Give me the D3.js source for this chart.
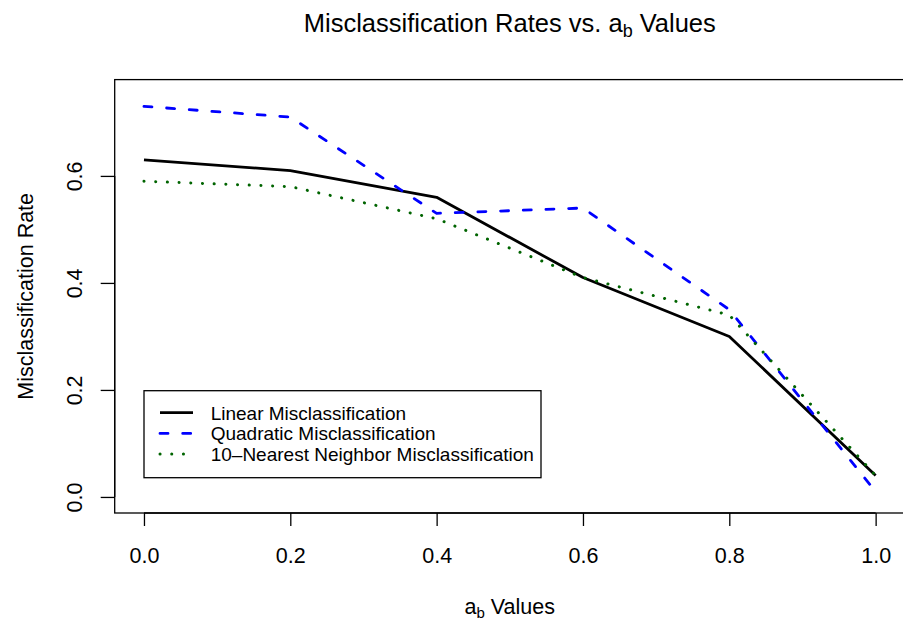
<!DOCTYPE html>
<html>
<head>
<meta charset="utf-8">
<script src="https://cdn.jsdelivr.net/npm/d3@7"></script>
<style>
  body { margin: 0; background: #fff; }
  svg text { font-family: "Liberation Sans", Arial, sans-serif; fill: #000; }
</style>
</head>
<body>
<svg id="chart" width="903" height="623"></svg>
<script>
// values
const abValues = [0.0, 0.2, 0.4, 0.6, 0.8, 1.0];
const linearRates = [0.63, 0.61, 0.56, 0.41, 0.30, 0.04];
const quadraticRates = [0.73, 0.71, 0.53, 0.54, 0.35, 0.01];
const knnRates = [0.59, 0.58, 0.52, 0.41, 0.34, 0.04];
const xTicks = [0.0, 0.2, 0.4, 0.6, 0.8, 1.0];
const yTicks = [0.0, 0.2, 0.4, 0.6];
const seriesNames = ["Linear Misclassification", "Quadratic Misclassification", "10\u2013Nearest Neighbor Misclassification"];

const series = [
    {name: seriesNames[0], values: linearRates, color: "#000000", dash: null, width: 2.8},
    {name: seriesNames[1], values: quadraticRates, color: "#0000FF", dash: "8,14.7", width: 2.8},
    {name: seriesNames[2], values: knnRates, color: "#006400", dash: "0.1,11.6", width: 3}
];

const svg = d3.select("#chart");

// plot region (R style, 4% padding on each side)
const x = d3.scaleLinear().domain([-0.04, 1.04]).range([114.7, 904.9]);
const y = d3.scaleLinear().domain([-0.03, 0.78]).range([513, 79.6]);

// box
svg.append("rect")
    .attr("x", x(-0.04)).attr("y", y(0.78))
    .attr("width", x(1.04) - x(-0.04)).attr("height", y(-0.03) - y(0.78))
    .attr("fill", "none").attr("stroke", "#000").attr("stroke-width", 1.3);

// x axis
const xAxis = d3.axisBottom(x).tickValues(xTicks).tickSize(13).tickSizeOuter(0)
    .tickPadding(22).tickFormat(d3.format(".1f"));
const gx = svg.append("g").attr("transform", `translate(0,${y(-0.03)})`).call(xAxis);
gx.select(".domain").attr("d", `M${x(0)},0H${x(1)}`).attr("stroke-width", 1.3);
gx.selectAll(".tick line").attr("stroke-width", 1.3);
gx.selectAll("text").style("font-size", "21.5px");

// y axis
const yAxis = d3.axisLeft(y).tickValues(yTicks).tickSize(14).tickSizeOuter(0)
    .tickPadding(0).tickFormat(d3.format(".1f"));
const gy = svg.append("g").attr("transform", `translate(${x(-0.04)},0)`).call(yAxis);
gy.select(".domain").attr("d", `M0,${y(0)}V${y(0.6)}`).attr("stroke-width", 1.3);
gy.selectAll(".tick line").attr("stroke-width", 1.3);
gy.selectAll(".tick text")
    .attr("x", null).attr("dy", null)
    .attr("text-anchor", "middle")
    .attr("transform", "translate(-33,0) rotate(-90)")
    .style("font-size", "21.5px");

// lines
const line = d3.line().x((d, i) => x(abValues[i])).y(d => y(d));
series.forEach(s => {
    svg.append("path")
        .datum(s.values)
        .attr("d", line)
        .attr("fill", "none")
        .attr("stroke", s.color)
        .attr("stroke-width", s.width)
        .attr("stroke-dasharray", s.dash)
        .attr("stroke-linecap", s.dash ? "round" : "butt")
        .attr("stroke-linejoin", "round");
});

// legend
const legend = svg.append("g");
legend.append("rect")
    .attr("x", 144).attr("y", 390.7).attr("width", 397).attr("height", 87)
    .attr("fill", "#fff").attr("stroke", "#000").attr("stroke-width", 1.3);
series.forEach((s, i) => {
    const cy = 412.7 + i * 20.7;
    legend.append("line")
        .attr("x1", 160).attr("x2", 193).attr("y1", cy).attr("y2", cy)
        .attr("stroke", s.color).attr("stroke-width", s.width)
        .attr("stroke-dasharray", s.dash)
        .attr("stroke-linecap", s.dash ? "round" : "butt");
    legend.append("text")
        .attr("x", 210.7).attr("y", cy).attr("dy", "0.36em")
        .style("font-size", "19px")
        .text(s.name);
});

// title
const title = svg.append("text")
    .attr("x", (x(-0.04) + x(1.04)) / 2).attr("y", 32)
    .attr("text-anchor", "middle").style("font-size", "25.5px");
title.append("tspan").text("Misclassification Rates vs. a");
title.append("tspan").attr("dy", 5).style("font-size", "18px").text("b");
title.append("tspan").attr("dy", -5).text(" Values");

// x label
const xl = svg.append("text")
    .attr("x", (x(-0.04) + x(1.04)) / 2).attr("y", 614)
    .attr("text-anchor", "middle").style("font-size", "21.5px");
xl.append("tspan").text("a");
xl.append("tspan").attr("dy", 4).style("font-size", "15px").text("b");
xl.append("tspan").attr("dy", -4).text(" Values");

// y label
svg.append("text")
    .attr("transform", `translate(33,${(y(-0.03) + y(0.78)) / 2}) rotate(-90)`)
    .attr("text-anchor", "middle").style("font-size", "21.5px")
    .text("Misclassification Rate");
</script>
</body>
</html>
